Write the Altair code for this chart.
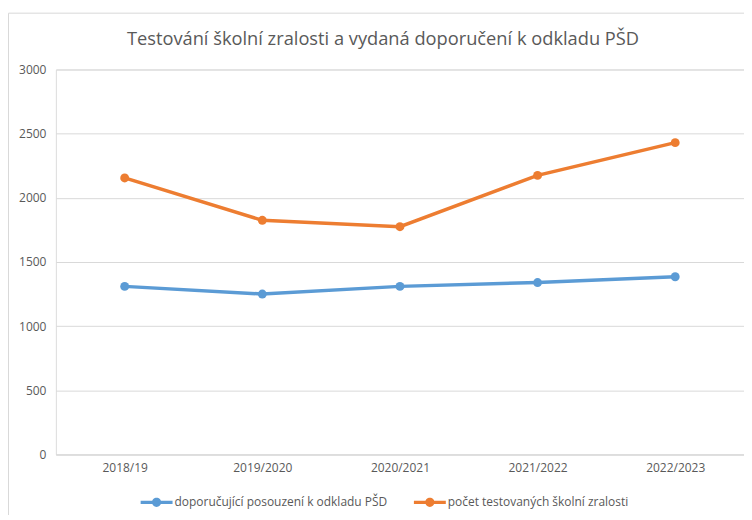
import altair as alt
import pandas as pd

years = ["2018/19", "2019/2020", "2020/2021", "2021/2022", "2022/2023"]
serie_names = ["doporučující posouzení k odkladu PŠD", "počet testovaných školní zralosti"]
doporucujici = [1310, 1250, 1310, 1340, 1385]
pocet = [2155, 1825, 1775, 2175, 2430]
y_ticks = [0, 500, 1000, 1500, 2000, 2500, 3000]
colors = ["#5B9BD5", "#ED7D31"]

rows = []
for name, vals in zip(serie_names, [doporucujici, pocet]):
    for yr, v in zip(years, vals):
        rows.append({"rok": yr, "hodnota": v, "serie": name})
df = pd.DataFrame(rows)

FONT = "Open Sans"
GRID = "#d9d9d9"
TXT = "#595959"

legend_path = ("M-1,-0.1 L1,-0.1 L1,0.1 L-1,0.1 Z "
               "M0.29,0 A0.29,0.29 0 1,1 -0.29,0 A0.29,0.29 0 1,1 0.29,0 Z")

x_enc = alt.X("rok:O", sort=years, title=None,
              scale=alt.Scale(type="point", padding=0.5),
              axis=alt.Axis(labelAngle=0, ticks=False, domain=True, domainColor=GRID,
                            labelColor=TXT, labelFont=FONT, labelFontSize=12,
                            labelPadding=8, grid=False))
y_enc = alt.Y("hodnota:Q", title=None,
              scale=alt.Scale(domain=[0, 3000], nice=False),
              axis=alt.Axis(values=y_ticks, format="d", ticks=False, domain=False, grid=True,
                            gridColor=GRID, labelColor=TXT, labelFont=FONT,
                            labelFontSize=12, labelPadding=10))

base = alt.Chart(df)
line = base.mark_line(strokeWidth=3.5).encode(
    x=x_enc, y=y_enc,
    color=alt.Color("serie:N", scale=alt.Scale(domain=serie_names, range=colors),
                    sort=serie_names, legend=None))
points = base.mark_point(filled=True, size=80, opacity=1).encode(
    x=x_enc, y=y_enc,
    fill=alt.Fill("serie:N", scale=alt.Scale(domain=serie_names, range=colors),
                  sort=serie_names,
                  legend=alt.Legend(title=None, orient="none", direction="horizontal",
                                    legendX=85, legendY=418,
                                    symbolType=legend_path, symbolSize=1024,
                                    symbolOpacity=1, symbolStrokeWidth=0,
                                    labelFont=FONT, labelFontSize=12, labelColor=TXT,
                                    labelLimit=600,
                                    labelOffset=2, columnPadding=26)))

border = alt.Chart(alt.Data(values=[{"a": 1}])).mark_rect(
    fill="transparent", stroke=GRID, strokeWidth=1).encode(
    x=alt.value(-47.5), x2=alt.value(760), y=alt.value(-56.5), y2=alt.value(520))

chart = alt.layer(border, line, points).resolve_scale(
    color="independent", fill="independent"
).properties(
    width=690, height=386,
    autosize=alt.AutoSizeParams(type="none"),
    padding={"left": 48, "top": 61, "right": 0, "bottom": 60},
    title=alt.TitleParams(
        "Testování školní zralosti a vydaná doporučení k odkladu PŠD",
        font=FONT, fontSize=18.3, fontWeight="normal", color=TXT,
        anchor="middle", dx=-17, offset=-37),
).configure_view(stroke=None).configure(background="white")

chart.save("out.html", embed_options={"renderer": "svg", "actions": False})
